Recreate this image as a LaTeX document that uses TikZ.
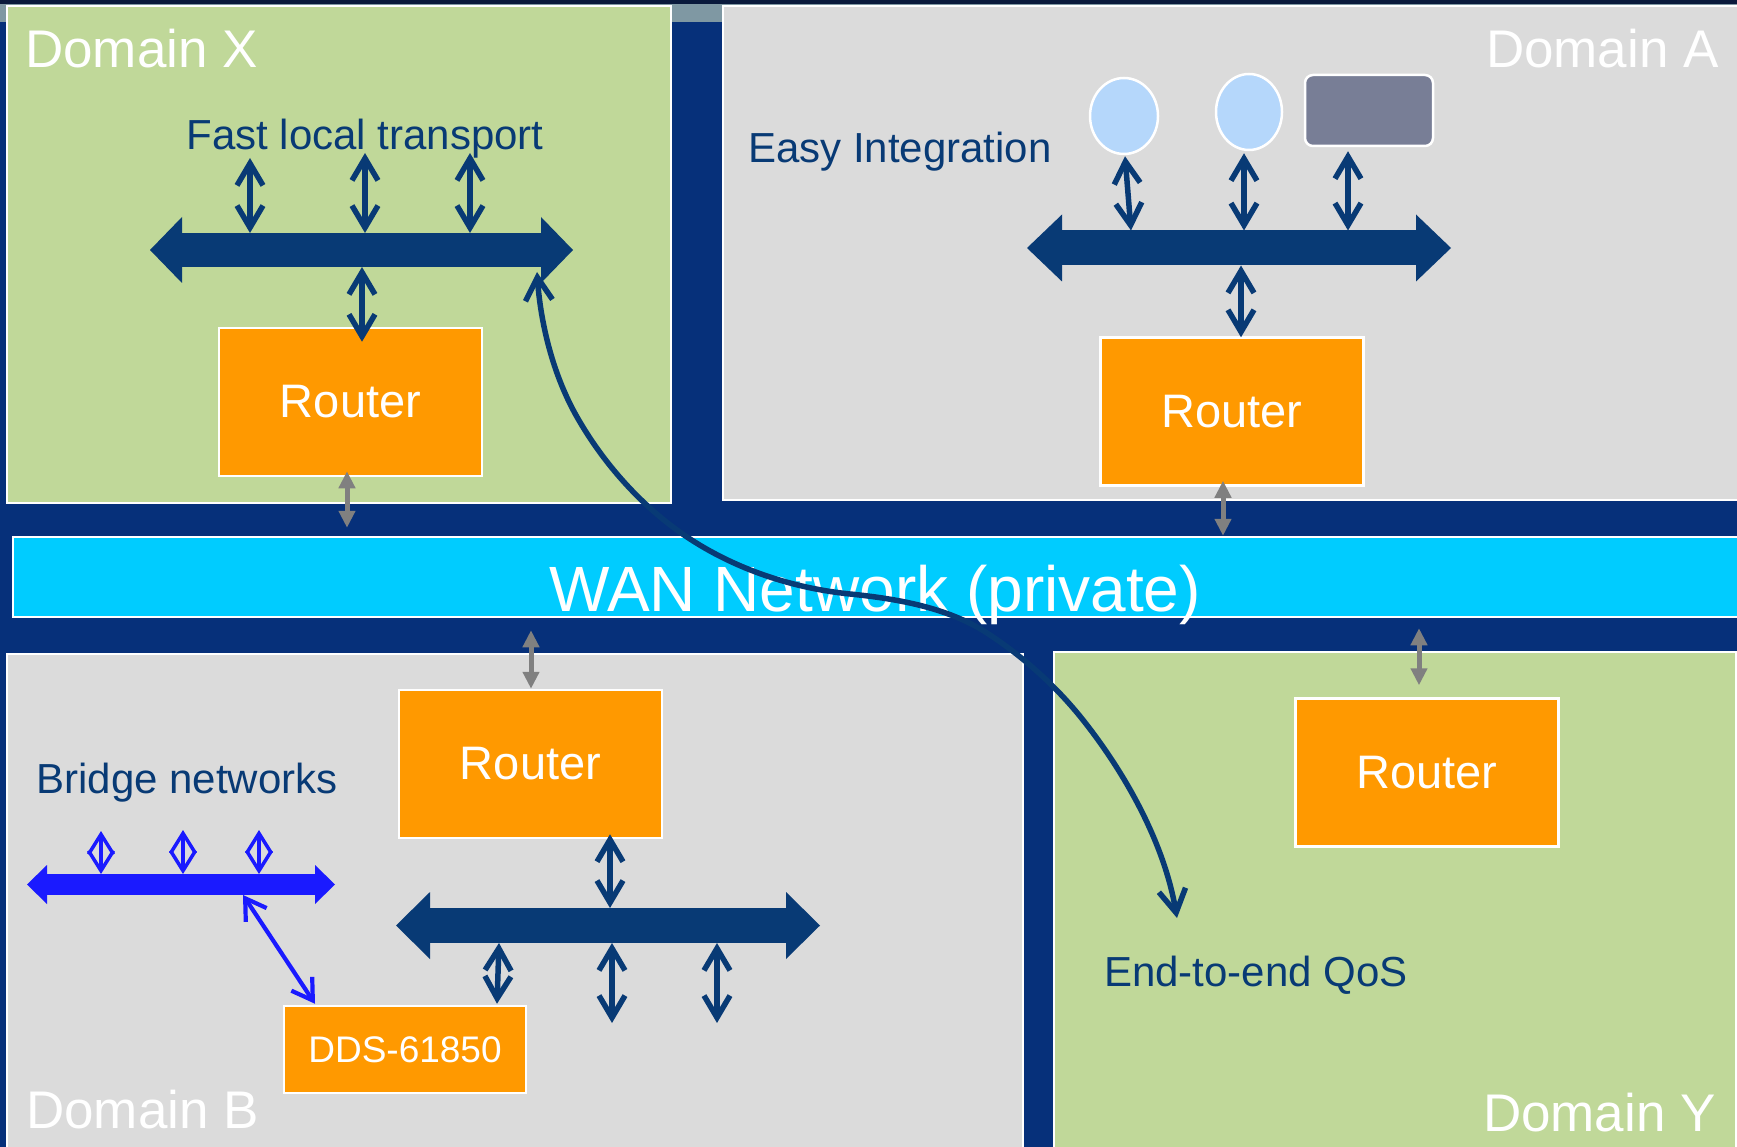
\documentclass[tikz,border=0pt]{standalone}
\usepackage{fontspec}
\setmainfont{Liberation Sans}
\usetikzlibrary{arrows.meta,shapes.geometric}

\definecolor{bgblue}{HTML}{06307A}
\definecolor{bgdark}{HTML}{0A1A3C}
\definecolor{titlegray}{HTML}{7F98A3}
\definecolor{domgreen}{HTML}{C0D899}
\definecolor{domgray}{HTML}{DBDBDB}
\definecolor{wancyan}{HTML}{00CCFF}
\definecolor{routerorange}{HTML}{FF9900}
\definecolor{busnavy}{HTML}{083A75}
\definecolor{bridgeblue}{HTML}{1A1AFF}
\definecolor{nodeblue}{HTML}{B5D7FB}
\definecolor{nodeslate}{HTML}{787E96}
\definecolor{linkgray}{HTML}{808080}

\tikzset{
  domainbox/.style={draw=white, line width=2.5pt},
  domlabel/.style={text=white, font=\fontsize{53}{60}\selectfont, inner sep=0pt},
  note/.style={text=busnavy, font=\fontsize{42}{48}\selectfont, inner sep=0pt},
  router/.style={draw=white, line width=2.5pt, fill=routerorange, text=white,
    minimum width=263pt, minimum height=148pt, inner sep=0pt,
    font=\fontsize{47}{54}\selectfont},
  shaft/.style={inner sep=0pt, outer sep=0pt},
  barb/.tip={Straight Barb[length=22pt,width=26pt]},
  link/.style={draw=busnavy, line width=5.5pt, line cap=round, barb-barb},
  wanlink/.style={draw=linkgray, line width=5pt,
    {Triangle[length=17pt,width=16pt]}-{Triangle[length=17pt,width=16pt]}},
  bridgelink/.style={draw=bridgeblue, line width=3.5pt, line cap=round,
    {Straight Barb[length=20pt,width=25pt]}-{Straight Barb[length=20pt,width=25pt]}},
  endlink/.style={draw=busnavy, line width=5.5pt, line cap=round,
    {Straight Barb[length=23pt,width=27pt]}-{Straight Barb[length=23pt,width=27pt]}},
}

% filled arrow heads on both ends of a bus shaft node:
% #1 node name, #2 overhang beyond shaft, #3 head length, #4 colour
\newcommand\busheads[4]{%
  \fill[#4] ([yshift=#2pt]#1.north west) -- ([xshift=-#3pt]#1.west)
            -- ([yshift=-#2pt]#1.south west) -- cycle;
  \fill[#4] ([yshift=#2pt]#1.north east) -- ([xshift=#3pt]#1.east)
            -- ([yshift=-#2pt]#1.south east) -- cycle;}
\newcommand\routertext{\raisebox{-2.5pt}{Router}}

\begin{document}
\begin{tikzpicture}[x=1pt,y=-1pt]
  \useasboundingbox (0,0) rectangle (1737,1147);
  \clip (0,0) rectangle (1737,1147);

  % backdrop
  \fill[bgblue] (0,0) rectangle (1737,1147);
  \fill[bgdark] (0,0) rectangle (1737,4);
  \fill[titlegray] (0,4) rectangle (1737,22);

  % domains and WAN
  \path[domainbox, fill=domgreen] (7,6) rectangle (671,503);
  \path[domainbox, fill=domgray] (723,6) rectangle (1760,500);
  \path[domainbox, fill=domgray] (7,654) rectangle (1023,1170);
  \path[domainbox, fill=domgreen] (1054,652) rectangle (1736,1170);
  \node[draw=white, line width=2.5pt, fill=wancyan, inner sep=0pt,
        minimum width=1747pt, minimum height=80pt] (wan) at (886.5,577) {};
  \node[text=white, font=\fontsize{64}{72}\selectfont, inner sep=0pt, anchor=base]
        (wantext) at (875,611) {WAN Network (private)};

  \node[domlabel, anchor=base west] (lblX) at (25,68) {Domain X};
  \node[domlabel, anchor=base east] (lblA) at (1719,68) {Domain A};
  \node[domlabel, anchor=base west] (lblB) at (26,1128) {Domain B};
  \node[domlabel, anchor=base east] (lblY) at (1716,1131) {Domain Y};

  \node[note, anchor=base] (fast) at (365,150) {Fast local transport};
  \node[note, anchor=base] (easy) at (900,163) {Easy Integration};
  \node[note, anchor=base] (bridge) at (187,793) {Bridge networks};
  \node[note, anchor=base] (qos) at (1256,986) {End-to-end QoS};

  % routers
  \node[router] (rX) at (350.5,402) {\routertext};
  \node[router] (rA) at (1232,411.5) {\routertext};
  \node[router] (rB) at (530.5,764) {\routertext};
  \node[router] (rY) at (1427,772.5) {\routertext};
  \node[router, minimum width=242pt, minimum height=87pt,
        font=\fontsize{37}{44}\selectfont] (dds) at (405,1049.5) {DDS-61850};

  % application end points in domain A
  \node[ellipse, draw=white, line width=2.5pt, fill=nodeblue, inner sep=0pt,
        minimum width=68pt, minimum height=76pt] (e1) at (1124,116) {};
  \node[ellipse, draw=white, line width=2.5pt, fill=nodeblue, inner sep=0pt,
        minimum width=66pt, minimum height=76pt] (e2) at (1249,112) {};
  \node[draw=white, line width=2.5pt, fill=nodeslate, rounded corners=8pt,
        inner sep=0pt, minimum width=128pt, minimum height=71pt] (dev) at (1369,110.5) {};

  % data buses
  \node[shaft, fill=busnavy, minimum width=359pt, minimum height=34pt] (busX) at (361.5,250) {};
  \busheads{busX}{16}{32}{busnavy}
  \node[shaft, fill=busnavy, minimum width=354pt, minimum height=35pt] (busA) at (1239,248) {};
  \busheads{busA}{16}{35}{busnavy}
  \node[shaft, fill=busnavy, minimum width=356pt, minimum height=35pt] (busB) at (608,925.5) {};
  \busheads{busB}{16}{34}{busnavy}
  \node[shaft, fill=bridgeblue, minimum width=268pt, minimum height=21pt] (busBr) at (181,884.5) {};
  \busheads{busBr}{9}{20}{bridgeblue}

  % domain X local links
  \coordinate (xt1) at (250,158);
  \coordinate (xt2) at (365,153);
  \coordinate (xt3) at (470,153);
  \foreach \i in {1,2,3} \draw[link] (xt\i) -- (xt\i |- busX.north);
  \draw[link] ([xshift=11.5pt]rX.north |- busX.south) -- ([xshift=11.5pt,yshift=-15pt]rX.north);

  % domain A links
  \draw[link] ([xshift=1pt,yshift=-1pt]e1.south) -- ([xshift=7pt]e1.south |- busA.north);
  \draw[link] ([xshift=-5pt,yshift=-2pt]e2.south) -- ([xshift=-5pt]e2.south |- busA.north);
  \draw[link] ([xshift=-21pt,yshift=-4pt]dev.south) -- ([xshift=-21pt]dev.south |- busA.north);
  \draw[link] ([xshift=9pt]rA.north |- busA.south) -- ([xshift=9pt,yshift=-1pt]rA.north);

  % domain B links
  \draw[link] ([xshift=79.5pt,yshift=5pt]rB.south) -- ([xshift=79.5pt]rB.south |- busB.north);
  \draw[link] ([xshift=94pt]dds.north |- busB.south) -- ([xshift=92pt,yshift=1pt]dds.north);
  \coordinate (bd2) at (612,1023);
  \coordinate (bd3) at (717,1023);
  \draw[link] (bd2 |- busB.south) -- (bd2);
  \draw[link] (bd3 |- busB.south) -- (bd3);

  % bridged network
  \coordinate (bt1) at (101,831);
  \coordinate (bt2) at (183,830);
  \coordinate (bt3) at (259,830);
  \foreach \i in {1,2,3} \draw[bridgelink] (bt\i) -- (bt\i |- busBr.north);
  \draw[bridgelink, line width=4.2pt] ([xshift=62pt]busBr.south) -- ([xshift=-90pt,yshift=1pt]dds.north);

  % router to WAN links
  \draw[wanlink] ([xshift=-3.5pt,yshift=6pt]rX.south) -- ([xshift=-3.5pt,yshift=8pt]rX.south |- wan.north);
  \draw[wanlink] ([xshift=-9pt,yshift=6pt]rA.south) -- ([xshift=-9pt]rA.south |- wan.north);
  \draw[wanlink] ([xshift=0.5pt,yshift=-12pt]rB.north |- wan.south) -- ([xshift=0.5pt]rB.north);
  \draw[wanlink] ([xshift=-8pt,yshift=-10pt]rY.north |- wan.south) -- ([xshift=-8pt,yshift=12pt]rY.north);

  % end-to-end path from domain X bus towards the QoS note in domain Y
  \coordinate (qosend) at (1177,918);
  \draw[endlink] ([xshift=-4pt,yshift=-5pt]busX.south east)
      .. controls (540.5,322) and (552.3,373.6) .. (577,417)
      .. controls (603.7,463.9) and (642.1,507) .. (687,537)
      .. controls (735.3,569.2) and (792.6,588.2) .. (850,594)
      .. controls (896.5,598.7) and (947.6,607.4) .. (987,633)
      .. controls (1023,656.4) and (1056.3,686.3) .. (1083,720)
      .. controls (1128.3,777.2) and (1164.7,846) .. (qosend);
\end{tikzpicture}
\end{document}
